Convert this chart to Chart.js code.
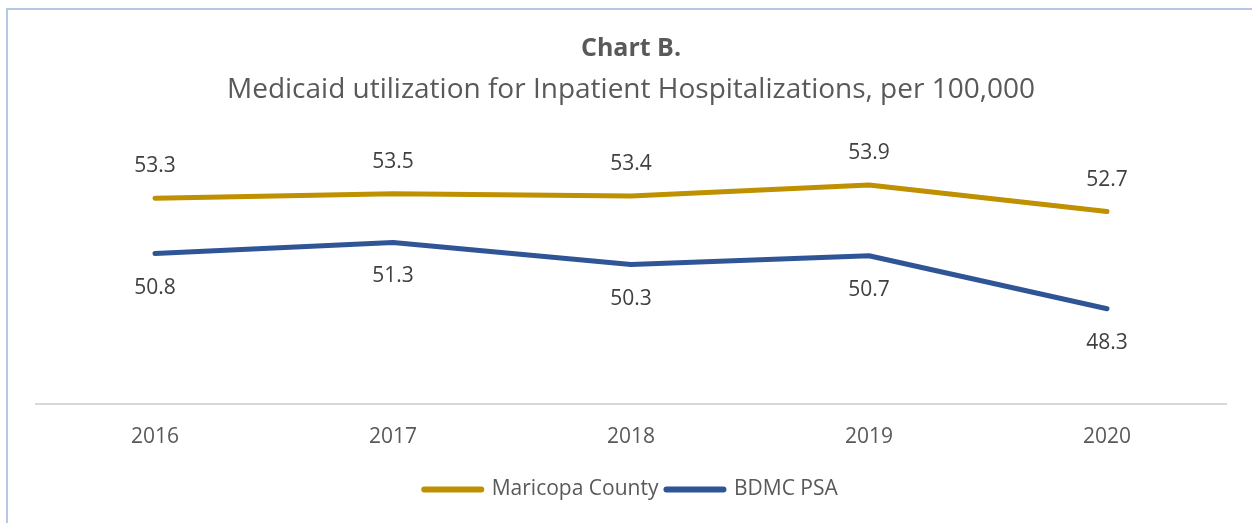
<!DOCTYPE html>
<html>
<head>
<meta charset="utf-8">
<script src="https://cdn.jsdelivr.net/npm/chart.js@4/dist/chart.umd.min.js"></script>
<style>
  html, body { margin: 0; padding: 0; background: #fff; }
  #wrap { position: relative; width: 1252px; height: 523px; overflow: hidden; }
  #frame { position: absolute; left: 6px; top: 8px; right: -10px; bottom: -10px;
           border-left: 2px solid #B4C7E7; border-top: 2px solid #B4C7E7; }
  canvas { position: absolute; left: 0; top: 0; }
</style>
</head>
<body>
<div id="wrap">
  <div id="frame"></div>
  <canvas id="c" width="1252" height="523"></canvas>
</div>
<script>
const years = ['2016', '2017', '2018', '2019', '2020'];
const maricopa = [53.3, 53.5, 53.4, 53.9, 52.7];
const bdmc = [50.8, 51.3, 50.3, 50.7, 48.3];
const seriesNames = ['Maricopa County', 'BDMC PSA'];
const titleText = 'Chart B.';
const subtitleText = 'Medicaid utilization for Inpatient Hospitalizations, per 100,000';

const GOLD = '#BF9000';
const BLUE = '#2F5597';
const FONT = "'Open Sans', 'DejaVu Sans', sans-serif";

const labelPlugin = {
  id: 'valueLabels',
  afterDatasetsDraw(chart) {
    const ctx = chart.ctx;
    ctx.save();
    ctx.font = '21px ' + FONT;
    ctx.fillStyle = '#404040';
    ctx.textAlign = 'center';
    ctx.textBaseline = 'middle';
    chart.data.datasets.forEach((ds, di) => {
      const meta = chart.getDatasetMeta(di);
      meta.data.forEach((pt, i) => {
        const v = ds.data[i];
        const dy = di === 0 ? -32 : 34;
        ctx.fillText(v.toFixed(1), pt.x, pt.y + dy);
      });
    });
    ctx.restore();
  }
};

new Chart(document.getElementById('c'), {
  type: 'line',
  data: {
    labels: years,
    datasets: [
      { label: seriesNames[0], data: maricopa, borderColor: GOLD, backgroundColor: GOLD,
        borderWidth: 5, pointRadius: 0, tension: 0, borderCapStyle: 'round', borderJoinStyle: 'round' },
      { label: seriesNames[1], data: bdmc, borderColor: BLUE, backgroundColor: BLUE,
        borderWidth: 5, pointRadius: 0, tension: 0, borderCapStyle: 'round', borderJoinStyle: 'round' }
    ]
  },
  options: {
    responsive: false,
    animation: false,
    devicePixelRatio: 1,
    layout: { padding: { left: 36, right: 26, top: 0, bottom: 13 } },
    plugins: {
      title: {
        display: true, text: titleText, color: '#595959',
        font: { family: FONT, size: 25, weight: 'bold' },
        padding: { top: 34, bottom: 6 }
      },
      subtitle: {
        display: true, text: subtitleText, color: '#595959',
        font: { family: FONT, size: 28, weight: 'normal' },
        padding: { top: 3, bottom: 32 }
      },
      legend: {
        position: 'bottom',
        labels: {
          color: '#595959',
          font: { family: FONT, size: 21 },
          usePointStyle: true,
          pointStyleWidth: 57,
          boxHeight: 6,
          padding: 8,
          generateLabels(chart) {
            return chart.data.datasets.map((ds, i) => ({
              text: ds.label,
              fillStyle: ds.borderColor,
              strokeStyle: ds.borderColor,
              lineWidth: 6,
              lineCap: 'round',
              pointStyle: 'line',
              fontColor: '#595959',
              datasetIndex: i,
              hidden: false
            }));
          }
        }
      },
      tooltip: { enabled: false }
    },
    scales: {
      x: {
        offset: true,
        grid: { display: false, drawTicks: false },
        border: { display: true, color: '#D9D9D9', width: 2 },
        ticks: { color: '#595959', font: { family: FONT, size: 21 }, padding: 21 }
      },
      y: {
        display: false,
        min: 44, max: 56
      }
    }
  },
  plugins: [labelPlugin]
});
</script>
</body>
</html>
